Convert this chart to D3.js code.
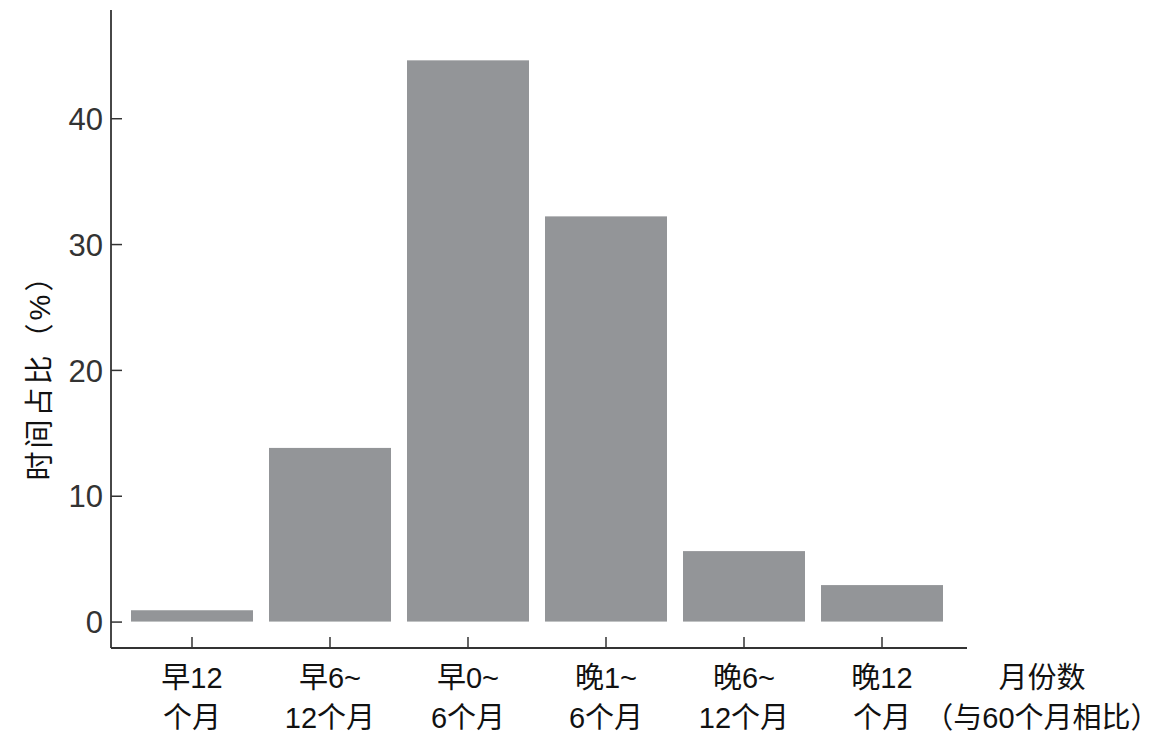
<!DOCTYPE html>
<html>
<head>
<meta charset="utf-8">
<script src="https://cdn.jsdelivr.net/npm/d3@7"></script>
<style>
  body { margin: 0; background: #fff; }
  svg { display: block; }
</style>
</head>
<body>
<div id="chart"></div>
<script>
// categories, two lines each
var catLine1 = ["早12", "早6~", "早0~", "晚1~", "晚6~", "晚12"];
var catLine2 = ["个月", "12个月", "6个月", "6个月", "12个月", "个月"];
var shares = [0.9, 13.8, 44.6, 32.2, 5.6, 2.9];
var yTicks = [0, 10, 20, 30, 40];
var yTitle = "时间占比（%）";
var xTitle = ["月份数", "（与60个月相比）"];

var W = 1176, H = 746;
var plotLeft = 111, plotRight = 967, plotTop = 10, plotBottom = 648;
var barStart = 131, barEnd = 943;
var fontStack = "'Liberation Sans', 'Noto Sans CJK SC', sans-serif";

var svg = d3.select("#chart")
    .append("svg")
    .attr("width", W)
    .attr("height", H);

var x = d3.scaleBand()
    .domain(d3.range(shares.length))
    .range([barStart, barEnd])
    .paddingInner(0.116)
    .paddingOuter(0);

var y = d3.scaleLinear()
    .domain([-2.1, 48.6])
    .range([plotBottom, plotTop]);

// bars
svg.append("g").selectAll("rect")
    .data(shares)
    .join("rect")
    .attr("x", (d, i) => x(i))
    .attr("width", x.bandwidth())
    .attr("y", d => y(d))
    .attr("height", d => y(0) - y(d))
    .attr("fill", "#939598");

// y axis, ticks pointing inward
var yAxis = svg.append("g")
    .attr("transform", "translate(" + plotLeft + ",0)")
    .call(d3.axisRight(y).tickValues(yTicks).tickSize(11).tickFormat(d3.format("d")));
yAxis.select(".domain").remove();
yAxis.selectAll(".tick line").attr("stroke", "#333").attr("stroke-width", 1.5);
yAxis.selectAll(".tick text")
    .attr("x", -8)
    .attr("text-anchor", "end")
    .attr("dy", "0.36em")
    .attr("font-family", fontStack)
    .attr("font-size", 31)
    .attr("font-weight", 300)
    .attr("fill", "#333");

// x axis ticks pointing up
var xAxis = svg.append("g")
    .attr("transform", "translate(0," + plotBottom + ")")
    .call(d3.axisTop(x).tickSize(11).tickFormat(""));
xAxis.select(".domain").remove();
xAxis.selectAll(".tick line").attr("stroke", "#333").attr("stroke-width", 1.5);

// axis lines
svg.append("line")
    .attr("x1", plotLeft).attr("x2", plotLeft)
    .attr("y1", plotTop).attr("y2", plotBottom)
    .attr("stroke", "#333").attr("stroke-width", 1.8);
svg.append("line")
    .attr("x1", plotLeft).attr("x2", plotRight)
    .attr("y1", plotBottom).attr("y2", plotBottom)
    .attr("stroke", "#333").attr("stroke-width", 1.8);

// category labels
var labels = svg.append("g")
    .attr("font-family", fontStack)
    .attr("font-size", 29)
    .attr("fill", "#111")
    .attr("text-anchor", "middle");
labels.selectAll("text.l1")
    .data(catLine1)
    .join("text")
    .attr("class", "l1")
    .attr("x", (d, i) => x(i) + x.bandwidth() / 2)
    .attr("y", 688)
    .text(d => d);
labels.selectAll("text.l2")
    .data(catLine2)
    .join("text")
    .attr("class", "l2")
    .attr("x", (d, i) => x(i) + x.bandwidth() / 2)
    .attr("y", 728)
    .text(d => d);

labels.selectAll("text.xt")
    .data(xTitle)
    .join("text")
    .attr("class", "xt")
    .attr("x", 1042)
    .attr("y", (d, i) => 688 + i * 40)
    .text(d => d);

// y title
svg.append("text")
    .attr("transform", "translate(50,370) rotate(-90)")
    .attr("text-anchor", "middle")
    .attr("font-family", fontStack)
    .attr("font-size", 29)
    .attr("letter-spacing", 3)
    .attr("fill", "#111")
    .text(yTitle);
</script>
</body>
</html>
